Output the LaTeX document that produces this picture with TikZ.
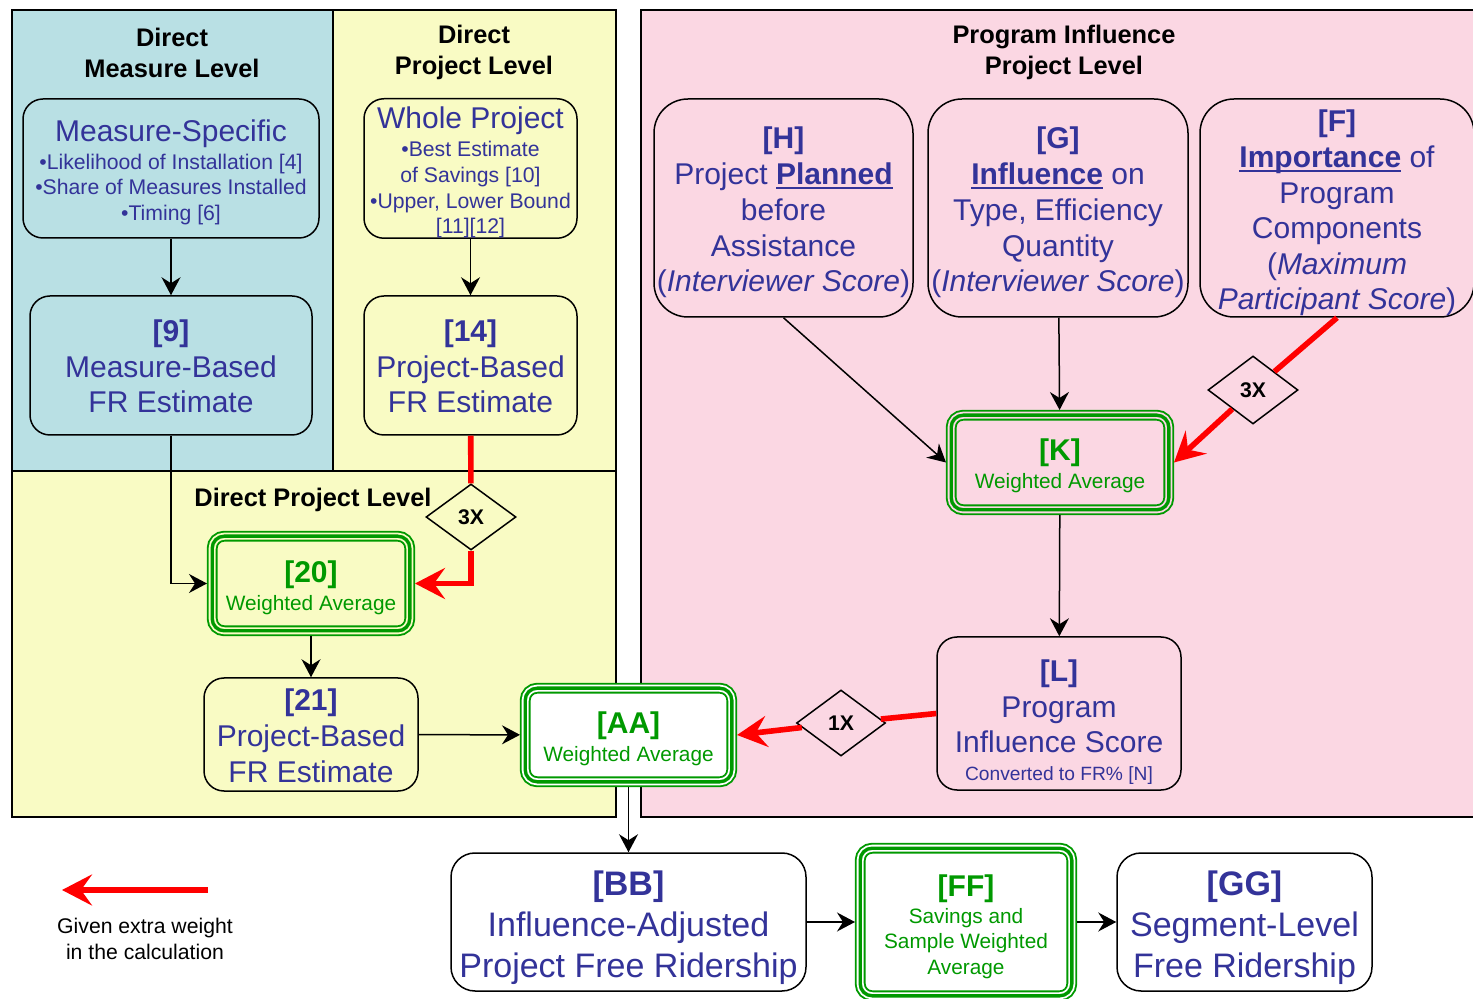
\documentclass[tikz,border=0pt]{standalone}
\usepackage{fontspec}
\setmainfont{Liberation Sans}
\usetikzlibrary{arrows.meta,shapes.geometric}
\definecolor{tblue}{RGB}{51,51,153}
\definecolor{tgreen}{RGB}{0,153,0}
\definecolor{pteal}{RGB}{185,224,228}
\definecolor{pyel}{RGB}{249,251,196}
\definecolor{ppink}{RGB}{251,215,227}
\newcommand{\myulbf}[1]{\setbox0=\hbox{\textbf{#1}}\rlap{\rule[-2.3pt]{\wd0}{1pt}}\box0\relax}
\newcommand{\tstrut}[1]{\rule{0pt}{#1}}
\begin{document}
\begin{tikzpicture}[x=0.5pt,y=-0.5pt,
  panel/.style={draw=black, line width=0.7pt},
  box/.style={draw=black, line width=0.75pt, rounded corners=10pt, align=center, text=tblue, inner sep=0pt},
  bigtxt/.style={font=\fontsize{15}{17.8}\selectfont},
  wavg/.style={rounded corners=6pt, align=center, text=tgreen, inner sep=0pt, outer sep=2.6pt,
    preaction={fill=#1, draw=tgreen, line width=5.4pt},
    draw=#1, line width=3.5pt,
    postaction={draw=tgreen, line width=1.7pt}},
  diam/.style={diamond, draw=black, line width=0.75pt, inner sep=0pt,
    font=\fontsize{10.6}{12}\selectfont\bfseries},
  ttl/.style={align=center, inner sep=0pt, font=\fontsize{12.7}{15.5}\selectfont\bfseries},
  blk/.style={draw=black, line width=0.75pt, -{Stealth[length=9pt,width=9.5pt,inset=3pt]}},
  redln/.style={draw=red, line width=2.8pt},
  redarr/.style={redln, -{Stealth[length=15pt,width=15.5pt,inset=5.5pt]}}
]
\path[use as bounding box] (0,0) rectangle (1473,999);
\clip (0,0) rectangle (1473,999);

% panels
\draw[panel, fill=pteal] (12,10) rectangle (333,471);
\draw[panel, fill=pyel] (333,10) rectangle (616,471);
\draw[panel, fill=pyel] (12,471) rectangle (616,817);
\draw[panel, fill=ppink] (641,10) rectangle (1490,817);

% titles
\node[ttl] (t1) at (172,52.5) {Direct\\Measure Level};
\node[ttl] (t2) at (474,52.5) {Direct\\Project Level};
\node[ttl] (t3) at (1064,52.5) {Program Influence\\Project Level};
\node[ttl] (t4) at (313,500) {Direct Project Level};

% direct measure / project boxes
\node[box, fill=pteal, minimum width=148pt, minimum height=69.5pt,
  font=\fontsize{10.6}{12.75}\selectfont] (ms) at (171,168.5)
  {{\fontsize{15}{18}\selectfont\tstrut{14.5pt}Measure-Specific}\\[1.25pt]•Likelihood of Installation [4]\\•Share of Measures Installed\\•Timing [6]};
\node[box, fill=pyel, minimum width=106.5pt, minimum height=69.5pt,
  font=\fontsize{10.6}{12.85}\selectfont] (wp) at (470.5,168.5)
  {{\fontsize{15}{18}\selectfont\tstrut{15pt}Whole Project}\\[1.15pt]•Best Estimate\\of Savings [10]\\•Upper, Lower Bound\\{[11][12]}};
\node[box, bigtxt, fill=pteal, minimum width=141pt, minimum height=69.5pt] (n9) at (171,365.5)
  {\tstrut{11.8pt}\textbf{[9]}\\Measure-Based\\FR Estimate};
\node[box, bigtxt, fill=pyel, minimum width=106.5pt, minimum height=69.5pt] (n14) at (470.5,365.5)
  {\tstrut{11.8pt}\textbf{[14]}\\Project-Based\\FR Estimate};
\node[wavg=pyel, minimum width=98.8pt, minimum height=47.3pt, font=\fontsize{10.4}{12}\selectfont] (w20) at (311,583.5)
  {{\fontsize{15}{18}\selectfont\bfseries\tstrut{15pt}[20]}\\[2pt]Weighted Average};
\node[box, bigtxt, fill=pyel, minimum width=107pt, minimum height=56.5pt] (n21) at (311,734.5)
  {\tstrut{12.2pt}\textbf{[21]}\\Project-Based\\FR Estimate};
\node[wavg=white, minimum width=103.3pt, minimum height=46.8pt, font=\fontsize{10.4}{12}\selectfont] (aa) at (628.5,735)
  {{\fontsize{15}{18}\selectfont\bfseries\tstrut{15pt}[AA]}\\[2pt]Weighted Average};

% program influence boxes
\node[box, rounded corners=17pt, fill=ppink, minimum width=129.5pt, minimum height=109pt,
  font=\fontsize{15}{17.9}\selectfont] (H) at (783.5,208)
  {\tstrut{15.5pt}\textbf{[H]}\\Project \myulbf{Planned}\\before\\Assistance\\(\textit{Interviewer Score})};
\node[box, rounded corners=17pt, fill=ppink, minimum width=130pt, minimum height=109pt,
  font=\fontsize{15}{17.9}\selectfont] (G) at (1058,208)
  {\tstrut{15.5pt}\textbf{[G]}\\\myulbf{Influence} on\\Type, Efficiency\\Quantity\\(\textit{Interviewer Score})};
\node[box, rounded corners=17pt, fill=ppink, minimum width=137pt, minimum height=109pt,
  font=\fontsize{15}{17.8}\selectfont] (F) at (1337,208)
  {\tstrut{16pt}\textbf{[F]}\\\myulbf{Importance} of\\Program\\Components\\(\textit{Maximum}\\\textit{Participant Score})};
\node[wavg=ppink, minimum width=108.8pt, minimum height=47.3pt, font=\fontsize{10.4}{12}\selectfont] (K) at (1060,462.5)
  {{\fontsize{15}{18}\selectfont\bfseries\tstrut{14pt}[K]}\\[2pt]Weighted Average};
\node[box, bigtxt, fill=ppink, minimum width=122pt, minimum height=76.5pt] (L) at (1059,713.5)
  {\tstrut{19.5pt}\textbf{[L]}\\Program\\Influence Score\\[-4pt]{\fontsize{9.6}{11}\selectfont Converted to FR\% [N]}};

% bottom row
\node[box, rounded corners=12pt, fill=white, minimum width=177.5pt, minimum height=69pt,
  font=\fontsize{17}{20.5}\selectfont] (bb) at (628.5,922)
  {\tstrut{18pt}\textbf{[BB]}\\Influence-Adjusted\\Project Free Ridership};
\node[wavg=white, minimum width=105.8pt, minimum height=73.8pt, font=\fontsize{10.4}{12.7}\selectfont] (ff) at (966,922)
  {{\fontsize{15}{18}\selectfont\bfseries\tstrut{15.5pt}[FF]}\\[0.8pt]Savings and\\Sample Weighted\\Average};
\node[box, rounded corners=12pt, fill=white, minimum width=127.5pt, minimum height=69pt,
  font=\fontsize{17}{20.5}\selectfont] (gg) at (1244.5,922)
  {\tstrut{18pt}\textbf{[GG]}\\Segment-Level\\Free Ridership};

% weight diamonds
\node[diam, minimum width=45pt, minimum height=33pt] (d1) at (471,517) {3X};
\node[diam, minimum width=45pt, minimum height=34pt] (d2) at (1253,390) {3X};
\node[diam, minimum width=44.5pt, minimum height=33pt] (d3) at (841,723) {1X};

% connectors
\draw[blk] (ms) -- (n9);
\draw[blk] (wp) -- (n14);
\draw[blk] (n9.south) |- (w20.west);
\draw[redln] (n14) -- (d1);
\draw[redarr] (d1.south) |- (w20.east);
\draw[blk] (w20) -- (n21);
\draw[blk] (n21) -- (aa);
\draw[blk] (aa) -- (bb);
\draw[blk] (bb) -- (ff);
\draw[blk] (ff) -- (gg);
\draw[blk] (H.south) -- (K.west);
\draw[blk] (G) -- (K);
\draw[blk] (K) -- (L);
\draw[redln] (F.south) -- (d2);
\draw[redarr] (d2) -- (K.east);
\draw[redln] (L.west) -- (d3);
\draw[redarr] (d3) -- (aa.east);

% legend
\coordinate (lgA) at (208,890);
\coordinate (lgB) at (62,890);
\draw[redarr] (lgA) -- (lgB);
\node[align=center, inner sep=0pt, font=\fontsize{10.6}{13}\selectfont] (lgtxt) at (145,939)
  {Given extra weight\\in the calculation};
\end{tikzpicture}
\end{document}
